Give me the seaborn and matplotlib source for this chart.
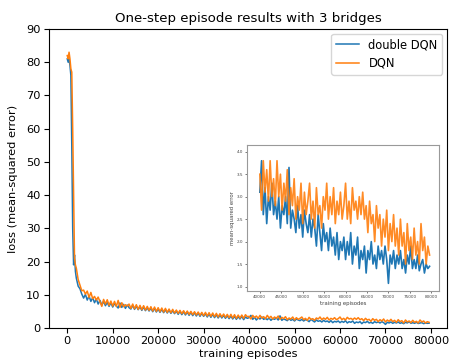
import numpy as np
import pandas as pd
import matplotlib
matplotlib.use("Agg")
import matplotlib.pyplot as plt
import seaborn as sns

# first episodes (steep drop), explicit positions
early_ep = [0, 200, 400, 600, 800, 1000, 1200, 1400, 1600, 1800]
early_ddqn = [81, 80, 81, 79, 76, 55, 30, 19, 22, 17]
early_dqn = [82, 81, 83, 81, 78, 77, 60, 40, 21, 19]

# 2000 .. 39600, every 400 episodes
mid_ep = np.arange(2000, 40000, 400)
mid_ddqn = [15.0, 12.6, 11.8, 10.2, 9.0, 10.1, 8.4, 9.6, 8.0, 9.1,
            7.6, 8.7, 7.2, 8.3, 6.9, 8.0, 6.7, 7.7, 6.5, 7.6,
            6.3, 7.4, 6.6, 6.0, 7.5, 6.2, 7.1, 5.9, 6.9, 6.1,
            5.7, 6.8, 5.6, 6.6, 5.5, 6.4, 5.3, 6.3, 5.2, 6.1,
            5.1, 6.0, 4.9, 5.9, 4.8, 5.7, 4.7, 5.6, 4.6, 5.5,
            4.5, 5.4, 4.4, 5.2, 4.3, 5.1, 4.1, 5.0, 4.0, 4.9,
            3.9, 4.8, 3.8, 4.7, 3.7, 4.6, 3.6, 4.5, 3.5, 4.4,
            3.5, 4.3, 3.3, 4.2, 3.2, 4.1, 3.1, 4.0, 3.0, 3.9,
            3.0, 3.8, 2.9, 3.7, 2.8, 3.6, 2.7, 3.5, 2.6, 3.4,
            2.7, 3.5, 2.5, 3.3, 2.9]
mid_dqn = [18.0, 14.6, 12.9, 11.2, 11.4, 10.2, 11.1, 9.2, 10.7, 8.8,
           9.5, 8.4, 9.3, 7.9, 6.5, 8.6, 7.2, 8.5, 6.8, 8.1,
           6.6, 8.0, 6.5, 8.3, 6.2, 7.6, 6.4, 7.0, 6.6, 7.2,
           5.9, 7.2, 5.8, 7.0, 5.6, 6.8, 5.5, 6.7, 5.4, 6.5,
           5.3, 6.4, 5.1, 6.3, 5.0, 6.1, 4.9, 6.0, 4.8, 5.9,
           4.7, 5.7, 4.6, 5.6, 4.5, 5.4, 4.4, 5.3, 4.3, 5.2,
           4.2, 5.1, 4.1, 5.0, 4.0, 4.9, 3.9, 4.8, 3.8, 4.7,
           3.7, 4.7, 3.6, 4.6, 3.5, 4.5, 3.4, 4.4, 3.3, 4.3,
           3.3, 4.2, 3.2, 4.1, 3.1, 4.1, 3.0, 4.0, 2.9, 3.9,
           3.0, 3.9, 2.9, 4.0, 3.4]

# 40000 .. 79600, every 400 episodes (also shown in the inset)
late_ep = np.arange(40000, 80000, 400)
late_ddqn = [3.1, 3.8, 2.6, 3.2, 2.4, 3.0, 2.7, 3.3, 2.6, 2.9,
             2.5, 3.0, 2.3, 2.8, 2.6, 3.0, 2.4, 3.65, 2.3, 2.7,
             2.5, 2.2, 2.8, 2.3, 2.6, 2.1, 2.7, 2.4, 2.2, 2.6,
             2.1, 2.5, 2.3, 1.9, 2.6, 2.2, 1.8, 2.4, 2.0, 2.2,
             1.8, 2.3, 1.9, 2.1, 1.7, 2.2, 1.6, 2.0, 1.8, 2.1,
             1.6, 2.0, 1.7, 2.2, 1.5, 1.9, 1.7, 2.1, 1.4, 1.8,
             1.6, 1.9, 1.3, 1.8, 1.6, 2.0, 1.5, 1.7, 1.4, 1.9,
             1.6, 1.8, 1.5, 1.9, 1.6, 1.07, 1.7, 1.5, 1.8, 1.4,
             1.7, 1.5, 1.8, 1.4, 1.6, 1.3, 1.7, 1.5, 1.9, 1.4,
             1.6, 1.4, 1.7, 1.35, 1.5, 1.6, 1.3, 1.5, 1.4, 1.45]
late_dqn = [3.5, 2.7, 3.8, 3.1, 3.6, 2.9, 3.8, 3.0, 3.4, 2.8,
            3.8, 3.0, 3.5, 2.7, 3.3, 2.9, 3.6, 2.6, 3.2, 2.8,
            3.4, 2.5, 3.0, 2.7, 3.3, 2.4, 3.1, 2.6, 2.9, 3.3,
            2.5, 2.9, 2.3, 3.2, 2.6, 2.8, 2.3, 3.0, 2.7, 3.3,
            2.5, 3.0, 2.6, 3.2, 2.4, 2.9, 2.6, 3.1, 2.5, 2.8,
            3.3, 2.5, 2.9, 2.4, 3.2, 2.7, 2.9, 2.5, 3.0, 2.6,
            3.1, 2.5, 2.8, 2.2, 2.9, 2.4, 2.6, 2.0, 2.8, 2.3,
            2.6, 1.9, 2.5, 2.1, 2.7, 1.8, 2.4, 2.0, 2.6, 1.9,
            2.3, 1.7, 2.5, 1.9, 2.2, 1.5, 2.4, 1.8, 2.1, 1.6,
            2.3, 1.7, 2.0, 1.5, 2.4, 1.8, 2.1, 1.5, 1.9, 1.7]

blue = "#1f77b4"
orange = "#ff7f0e"

episodes = np.concatenate([early_ep, mid_ep, late_ep])
ddqn = np.concatenate([early_ddqn, mid_ddqn, late_ddqn])
dqn = np.concatenate([early_dqn, mid_dqn, late_dqn])

fig = plt.figure(figsize=(4.5, 3.62), dpi=100)
ax = fig.add_axes([0.109, 0.094, 0.884, 0.826])
sns.lineplot(x=episodes, y=ddqn, ax=ax, color=blue, lw=1.1, label="double DQN")
sns.lineplot(x=episodes, y=dqn, ax=ax, color=orange, lw=1.1, label="DQN")
ax.set_ylim(0, 90)
ax.set_xlim(-4000, 83500)
ax.set_xticks(range(0, 80001, 10000))
ax.tick_params(labelsize=8.2, length=3.5, pad=2.5)
ax.set_xlabel("training episodes", fontsize=8.2, labelpad=2)
ax.set_ylabel("loss (mean-squared error)", fontsize=8.2, labelpad=6)
ax.set_title("One-step episode results with 3 bridges", fontsize=9.6, pad=5)
ax.legend(loc="upper right", fontsize=8.3, borderaxespad=0.4)

ins = fig.add_axes([247 / 450, 1 - 291 / 362, 192 / 450, 146 / 362])
sns.lineplot(x=late_ep, y=late_ddqn, ax=ins, color=blue, lw=1.2)
sns.lineplot(x=late_ep, y=late_dqn, ax=ins, color=orange, lw=1.2, alpha=0.9)
ins.set_xlim(37000, 81800)
ins.set_ylim(0.9, 4.15)
ins.set_xticks(range(40000, 80001, 5000))
ins.set_yticks([1.0, 1.5, 2.0, 2.5, 3.0, 3.5, 4.0])
ins.tick_params(labelsize=3, length=1.5, width=0.5, pad=1.5, colors="#444444")
ins.set_xlabel("training episodes", fontsize=3.9, labelpad=1, color="#444444")
ins.set_ylabel("mean-squared error", fontsize=3.9, labelpad=1, color="#444444")
for sp in ins.spines.values():
    sp.set_color("#999999")
    sp.set_linewidth(0.8)

fig.savefig("out.png", dpi=100)
